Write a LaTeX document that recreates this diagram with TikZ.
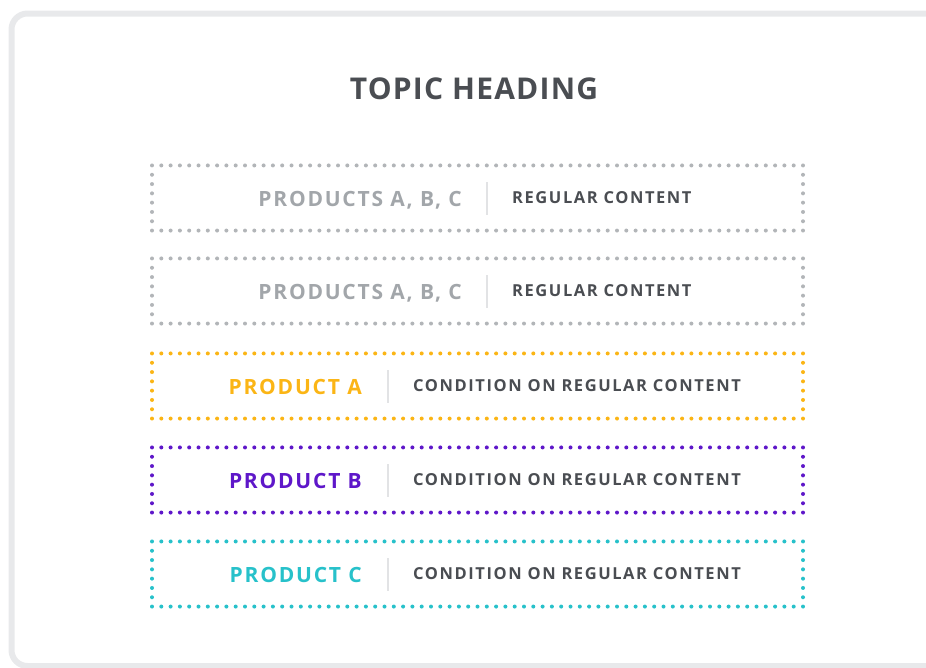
\documentclass[tikz,border=0pt]{standalone}
\usepackage{fontspec}
\setmainfont{Open Sans}
\usetikzlibrary{positioning}

\definecolor{framegray}{HTML}{E8E9EB}
\definecolor{textdark}{HTML}{4A4D52}
\definecolor{labelgray}{HTML}{A2A6AA}
\definecolor{dotgray}{HTML}{B2B5B8}
\definecolor{rulegray}{HTML}{E2E3E5}
\definecolor{prodyellow}{HTML}{FBB515}
\definecolor{prodpurple}{HTML}{5E17C9}
\definecolor{prodteal}{HTML}{27C1CA}

\begin{document}
\begin{tikzpicture}[x=1pt, y=-1pt,
        rowbox/.style={rectangle, draw=#1, line width=4pt, line cap=round,
            dash pattern=on 0pt off 9.3pt, minimum width=651pt, minimum height=65.1pt, inner sep=0pt},
        prodlabel/.style={anchor=east, inner sep=0pt, text depth=0pt, yshift=-1pt, text=#1,
            font=\fontsize{21}{21}\selectfont\bfseries\addfontfeatures{LetterSpace=8.5}},
        content/.style={anchor=west, inner sep=0pt, text depth=0pt, text=textdark,
            font=\fontsize{16.5}{16.5}\selectfont\bfseries\addfontfeatures{LetterSpace=9.5}},
        divider/.style={draw=rulegray, line width=1.5pt}
    ]
        \useasboundingbox (0,0) rectangle (926,667);

        % Frame
        \draw[framegray, line width=6pt, rounded corners=16pt] (11.5,13.5) rectangle (980,666);

        % Heading
        \node[text=textdark, text depth=0pt, font=\fontsize{30}{30}\selectfont\bfseries\addfontfeatures{LetterSpace=4}] (heading) at (474,88.5) {TOPIC HEADING};

        % Rows
        \node[rowbox=dotgray] (row_one) at (477.5,198) {};
        \node[rowbox=dotgray] (row_two) at (477.5,291) {};
        \node[rowbox=prodyellow] (row_a) at (477.5,386) {};
        \node[rowbox=prodpurple] (row_b) at (477.5,480) {};
        \node[rowbox=prodteal] (row_c) at (477.5,574) {};

        % Dividers
        \coordinate (div_one) at (487,198);
        \coordinate (div_two) at (487,291);
        \coordinate (div_a) at (388,386);
        \coordinate (div_b) at (388,480);
        \coordinate (div_c) at (388,574);
        \foreach \d in {div_one, div_two, div_a, div_b, div_c}
            \draw[divider] ([yshift=-16.5pt]\d) -- ([yshift=16.5pt]\d);

        % Labels
        \node[prodlabel=labelgray, left=25pt of div_one] (label_one) {PRODUCTS A, B, C};
        \node[content, right=25pt of div_one] (content_one) {REGULAR CONTENT};
        \node[prodlabel=labelgray, left=25pt of div_two] (label_two) {PRODUCTS A, B, C};
        \node[content, right=25pt of div_two] (content_two) {REGULAR CONTENT};
        \node[prodlabel=prodyellow, left=26pt of div_a] (label_a) {PRODUCT A};
        \node[content, right=25pt of div_a] (content_a) {CONDITION ON REGULAR CONTENT};
        \node[prodlabel=prodpurple, left=26pt of div_b] (label_b) {PRODUCT B};
        \node[content, right=25pt of div_b] (content_b) {CONDITION ON REGULAR CONTENT};
        \node[prodlabel=prodteal, left=26pt of div_c] (label_c) {PRODUCT C};
        \node[content, right=25pt of div_c] (content_c) {CONDITION ON REGULAR CONTENT};
    \end{tikzpicture}
\end{document}
